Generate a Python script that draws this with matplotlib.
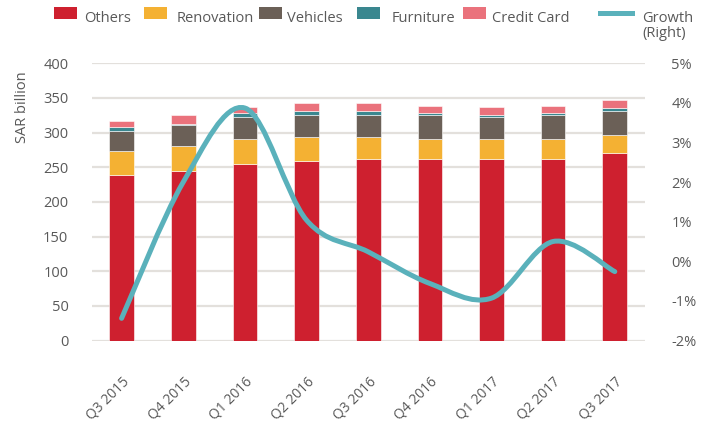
import matplotlib
matplotlib.use('Agg')
import matplotlib.pyplot as plt
from matplotlib.path import Path
from matplotlib.patches import PathPatch, Rectangle
from matplotlib.lines import Line2D
import numpy as np

plt.rcParams['font.family'] = ['Open Sans', 'DejaVu Sans']

# ---- data (SAR billion, growth in %)
quarters = ['Q3 2015', 'Q4 2015', 'Q1 2016', 'Q2 2016', 'Q3 2016',
            'Q4 2016', 'Q1 2017', 'Q2 2017', 'Q3 2017']
others = [239.5, 245, 254, 259.5, 262, 262, 262, 262, 270.5]
renovation = [34.5, 35, 37, 34.5, 31.5, 28.7, 28.7, 28.7, 26.5]
vehicles = [28, 31, 31, 31, 31.5, 34.3, 31.3, 34.3, 33.5]
furniture = [6, 2, 5.6, 5.5, 5.5, 2.6, 3, 2.6, 5.5]
credit_card = [8.5, 12, 9, 11.5, 11.5, 11.4, 11.6, 11.4, 11.7]
growth = [-1.44, 2.0, 3.87, 1.04, 0.24, -0.56, -0.93, 0.50, -0.26]

series = [('Others', others, '#CE202F'),
          ('Renovation', renovation, '#F4B133'),
          ('Vehicles', vehicles, '#6B6057'),
          ('Furniture', furniture, '#3A878F'),
          ('Credit Card', credit_card, '#EA727C')]
line_col = '#5AB1BB'
txt_col = '#595959'
W, H = 717, 423

fig = plt.figure(figsize=(7.17, 4.23), dpi=100)
ax = fig.add_axes([92 / W, 1 - 340.5 / H, (645 - 92) / W, (340.5 - 63.3) / H])
ax2 = ax.twinx()

x = np.arange(len(quarters))
bottom = np.zeros(len(quarters))
for name, vals, col in series:
    ax.bar(x, vals, width=0.4, bottom=bottom, color=col, edgecolor='white',
           linewidth=0.4, zorder=2)
    bottom += np.array(vals)

ax.set_ylim(0, 400)
ax.set_yticks(range(0, 401, 50))
ax.set_xlim(-0.48, 8.49)
ax.grid(axis='y', color='#E3E0DC', linewidth=1.6, zorder=0)
ax.set_axisbelow(True)
ax.set_xticks(x)
ax.set_xticklabels(quarters, rotation=45, ha='right', rotation_mode='anchor')
ax.tick_params(axis='x', length=0, pad=24, labelsize=10, labelcolor=txt_col)
ax.tick_params(axis='y', length=0, pad=17, labelsize=10.5, labelcolor=txt_col)

# smoothed growth line (Catmull-Rom style bezier through the data points)
pts = np.column_stack([x, growth]).astype(float)
ext = np.vstack([pts[0], pts, pts[-1]])
verts = [pts[0]]
codes = [Path.MOVETO]
for i in range(len(pts) - 1):
    p0, p1, p2, p3 = ext[i], ext[i + 1], ext[i + 2], ext[i + 3]
    verts += [p1 + (p2 - p0) / 6, p2 - (p3 - p1) / 6, p2]
    codes += [Path.CURVE4] * 3
ax2.add_patch(PathPatch(Path(verts, codes), facecolor='none', edgecolor=line_col,
                        linewidth=3.6, capstyle='round', zorder=3))
ax2.set_ylim(-2, 5)
ax2.set_yticks(range(-2, 6))
ax2.set_yticklabels(['%d%%' % v for v in range(-2, 6)])
ax2.tick_params(axis='y', length=0, pad=19, labelsize=10.5, labelcolor=txt_col)

for a in (ax, ax2):
    for s in a.spines.values():
        s.set_visible(False)

fig.text(22 / W, 1 - 107 / H, 'SAR billion', rotation=90, ha='center', va='center',
         fontsize=10.5, color=txt_col)

# legend drawn by hand along the top
leg_patch_x = [54, 144, 259, 357, 463]
leg_text_x = [84, 177, 287, 392, 492]
for (name, vals, col), px, tx in zip(series, leg_patch_x, leg_text_x):
    fig.add_artist(Rectangle((px / W, 1 - 18.7 / H), 23 / W, 12 / H,
                             transform=fig.transFigure, color=col, lw=0))
    fig.text(tx / W, 1 - 22 / H, name, ha='left', va='baseline', fontsize=10.5,
             color=txt_col)
fig.add_artist(Line2D([600 / W, 632 / W], [1 - 12.7 / H, 1 - 12.7 / H],
                      transform=fig.transFigure, color=line_col, lw=3.6))
fig.text(642 / W, 1 - 22 / H, 'Growth', ha='left', va='baseline', fontsize=10.5,
         color=txt_col)
fig.text(642 / W, 1 - 37 / H, '(Right)', ha='left', va='baseline', fontsize=10.5,
         color=txt_col)

fig.savefig('out.png', dpi=100)
